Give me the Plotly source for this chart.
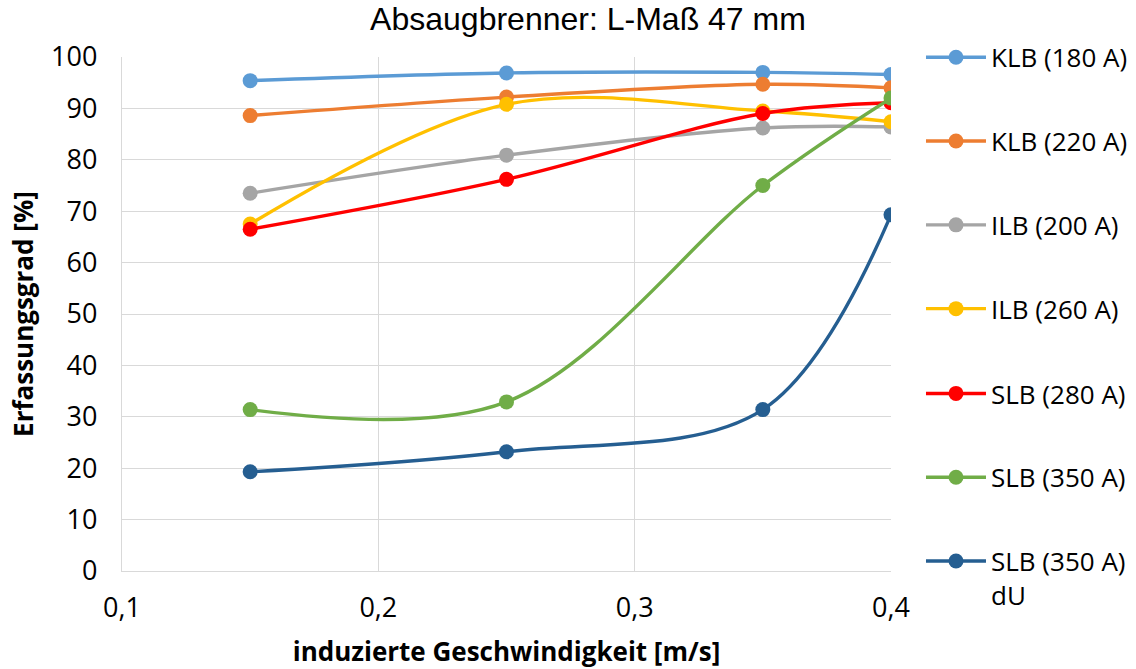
import plotly.graph_objects as go

x_vals = [0.15, 0.25, 0.35, 0.4]
names = ["KLB (180 A)", "KLB (220 A)", "ILB (200 A)", "ILB (260 A)",
         "SLB (280 A)", "SLB (350 A)", "SLB (350 A)<br>dU"]
klb_180 = [95.4, 96.9, 97.0, 96.6]
klb_220 = [88.6, 92.2, 94.7, 94.0]
ilb_200 = [73.5, 80.9, 86.2, 86.4]
ilb_260 = [67.5, 90.8, 89.5, 87.4]
slb_280 = [66.5, 76.2, 89.0, 91.1]
slb_350 = [31.4, 32.9, 75.0, 92.0]
slb_350_du = [19.3, 23.2, 31.4, 69.3]
colors = ["#5b9bd5", "#ed7d31", "#a5a5a5", "#ffc000", "#ff0000", "#70ad47", "#255e91"]
series = [klb_180, klb_220, ilb_200, ilb_260, slb_280, slb_350, slb_350_du]

x_ticks = [0.1, 0.2, 0.3, 0.4]
y_ticks = list(range(0, 101, 10))

font_main = "Open Sans, sans-serif"
leg_font = dict(family=font_main, size=26, color="#000")

fig = go.Figure()
for i, (n, c, s) in enumerate(zip(names, colors, series)):
    fig.add_trace(go.Scatter(
        x=x_vals, y=s, name=n, mode="lines+markers",
        line=dict(color=c, width=3.4, shape="spline", smoothing=1.0),
        marker=dict(color=c, size=15),
        legendgroup=str(i),
        legend="legend" if i < 4 else "legend2",
    ))

fig.update_layout(
    width=1136, height=669,
    margin=dict(l=122, r=245, t=57, b=98, autoexpand=False),
    paper_bgcolor="white", plot_bgcolor="white",
    separators=", ",
    title=dict(text="Absaugbrenner: L-Maß 47 mm", x=0.5176, xanchor="center",
               y=0.972, yanchor="middle",
               font=dict(family="Liberation Sans, Arial", size=32, color="#000")),
    font=dict(family=font_main, size=26, color="#000"),
    legend=dict(x=1.039, xanchor="left", y=1.045, yanchor="top",
                tracegroupgap=47, font=leg_font, valign="top",
                itemwidth=60, bgcolor="rgba(0,0,0,0)"),
    legend2=dict(x=1.039, xanchor="left", y=0.391, yanchor="top",
                 tracegroupgap=47, font=leg_font, valign="top",
                 itemwidth=60, bgcolor="rgba(0,0,0,0)"),
    xaxis=dict(range=[0.1, 0.4], tickvals=x_ticks, tickformat=".1f",
               showgrid=True, gridcolor="#d9d9d9", gridwidth=1.3, automargin=False,
               zeroline=False, showline=True, linecolor="#d9d9d9", linewidth=1.3,
               ticks="", tickfont=dict(size=27), ticklabelstandoff=12,
               title=dict(text="<b>induzierte Geschwindigkeit [m/s]</b>", standoff=24,
                          font=dict(size=26))),
    yaxis=dict(range=[0, 100], tickvals=y_ticks,
               showgrid=True, gridcolor="#d9d9d9", gridwidth=1.3, automargin=False,
               zeroline=False, showline=True, linecolor="#d9d9d9", linewidth=1.3,
               ticks="", tickfont=dict(size=27), ticklabelstandoff=18,
               title=dict(text="<b>Erfassungsgrad [%]</b>", standoff=10,
                          font=dict(size=26))),
)

fig.write_html("out.html")
